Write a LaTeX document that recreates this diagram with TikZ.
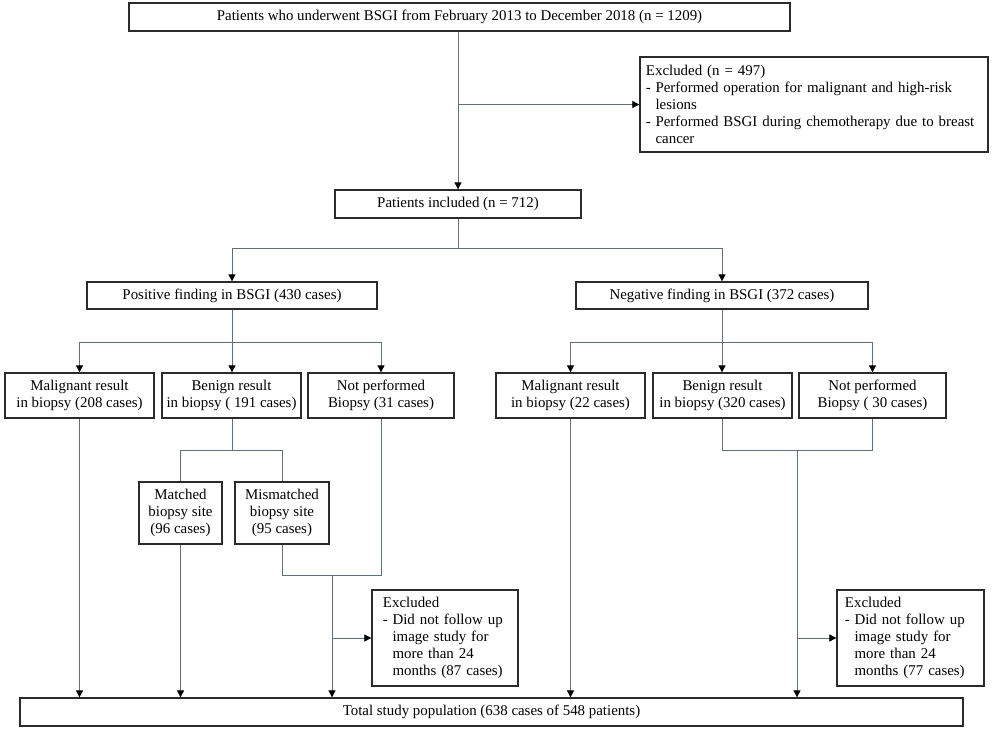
\documentclass[tikz,border=0pt]{standalone}
\usepackage{fontspec}
\setmainfont{Liberation Serif}
\usetikzlibrary{arrows.meta}
\definecolor{boxc}{HTML}{2B2B2B}
\definecolor{linec}{HTML}{5E6E7A}
\newcommand\dashitem{\makebox[0.24cm][l]{-}}
\newcommand\contitem{\hspace*{0.24cm}}
\begin{document}
\begin{tikzpicture}[x=0.025cm,y=-0.025cm,
  box/.style={draw=boxc,line width=0.9pt,inner sep=0pt,align=center,font=\fontsize{10.6}{12}\selectfont},
  lbox/.style={draw=boxc,line width=0.9pt,inner ysep=0pt,align=left,font=\fontsize{10.6}{12}\selectfont},
  conn/.style={draw=linec,line width=0.6pt},
  arr/.style={conn,-{Triangle[length=5pt,width=5pt,fill=black,color=black]}}]
\useasboundingbox (0,0) rectangle (1000,734);
\fill[white] (0,0) rectangle (1000,734);
% nodes
\node[box,minimum width=16.525cm,minimum height=0.7cm] (top) at (459.5,17) {Patients who underwent BSGI from February 2013 to December 2018 (n = 1209)};
\node[lbox,minimum width=8.7cm,minimum height=2.375cm,inner xsep=0.15cm,text width=8.4cm] (exa) at (814,104.5) {Excluded (n = 497)\\
\dashitem Performed operation for malignant and high-risk\\
\contitem lesions\\
\dashitem Performed BSGI during chemotherapy due to breast\\
\contitem cancer};
\node[box,minimum width=6.15cm,minimum height=0.7cm] (inc) at (458,204) {Patients included (n = 712)};
\node[box,minimum width=7.25cm,minimum height=0.675cm] (pos) at (232,295.5) {Positive finding in BSGI (430 cases)};
\node[box,minimum width=7.3cm,minimum height=0.675cm] (neg) at (722,295.5) {Negative finding in BSGI (372 cases)};
\node[box,minimum width=3.725cm,minimum height=1.125cm] (ma) at (79.5,395.5) {Malignant result\\in biopsy (208 cases)};
\node[box,minimum width=3.475cm,minimum height=1.125cm] (ba) at (231.5,395.5) {Benign result\\in biopsy ( 191 cases)};
\node[box,minimum width=3.65cm,minimum height=1.125cm] (na) at (381,395.5) {Not performed\\Biopsy (31 cases)};
\node[box,minimum width=3.725cm,minimum height=1.125cm] (mb) at (570.5,395.5) {Malignant result\\in biopsy (22 cases)};
\node[box,minimum width=3.475cm,minimum height=1.125cm] (bb) at (722.5,395.5) {Benign result\\in biopsy (320 cases)};
\node[box,minimum width=3.675cm,minimum height=1.125cm] (nb) at (872.5,395.5) {Not performed\\Biopsy ( 30 cases)};
\node[box,minimum width=2.075cm,minimum height=1.55cm] (mat) at (180.5,513) {Matched\\biopsy site\\(96 cases)};
\node[box,minimum width=2.35cm,minimum height=1.55cm] (mis) at (282,513) {Mismatched\\biopsy site\\(95 cases)};
\node[lbox,minimum width=3.65cm,minimum height=2.4cm,inner xsep=0.275cm,text width=3.1cm] (exb) at (445,638) {Excluded\\
\dashitem Did not follow up\\
\contitem image study for\\
\contitem more than 24\\
\contitem months (87 cases)};
\node[lbox,minimum width=3.675cm,minimum height=2.4cm,inner xsep=0.2cm,text width=3.275cm] (exc) at (910.5,638) {Excluded\\
\dashitem Did not follow up\\
\contitem image study for\\
\contitem more than 24\\
\contitem months (77 cases)};
\node[box,minimum width=23.575cm,minimum height=0.7cm] (tot) at (491.5,712) {Total study population (638 cases of 548 patients)};
% junction coordinates
\coordinate (j1) at (458,248);
\coordinate (jp) at (232,342);
\coordinate (jn) at (722,342);
\coordinate (jb) at (232,450);
\coordinate (jm) at (332,575);
\coordinate (jr) at (797,450);
% connectors
\draw[arr] (inc.north |- top.south) -- (inc.north);
\draw[arr] (inc.north |- exa.west) -- (exa.west);
\draw[conn] (inc.south) -- (j1);
\draw[arr] (j1) -| (pos.north);
\draw[arr] (j1) -| (neg.north);
\draw[conn] (pos.south) -- (jp);
\draw[arr] (jp) -| (ma.north);
\draw[arr] (jp) -- (ba.north -| jp);
\draw[arr] (jp) -| (na.north);
\draw[conn] (neg.south) -- (jn);
\draw[arr] (jn) -| (mb.north);
\draw[arr] (jn) -- (bb.north -| jn);
\draw[arr] (jn) -| (nb.north);
\draw[conn] (ba.south -| jb) -- (jb);
\draw[conn] (jb) -| (mat.north);
\draw[conn] (jb) -| (mis.north);
\draw[conn] (mis.south) |- (jm);
\draw[conn] (na.south) |- (jm);
\draw[arr] (jm) -- (jm |- tot.north);
\draw[arr] (jm |- exb.west) -- (exb.west);
\draw[arr] (ma.south) -- (ma.south |- tot.north);
\draw[arr] (mat.south) -- (mat.south |- tot.north);
\draw[arr] (mb.south) -- (mb.south |- tot.north);
\draw[conn] (bb.south -| jn) |- (jr);
\draw[conn] (nb.south) |- (jr);
\draw[arr] (jr) -- (jr |- tot.north);
\draw[arr] (jr |- exc.west) -- (exc.west);
\end{tikzpicture}
\end{document}
